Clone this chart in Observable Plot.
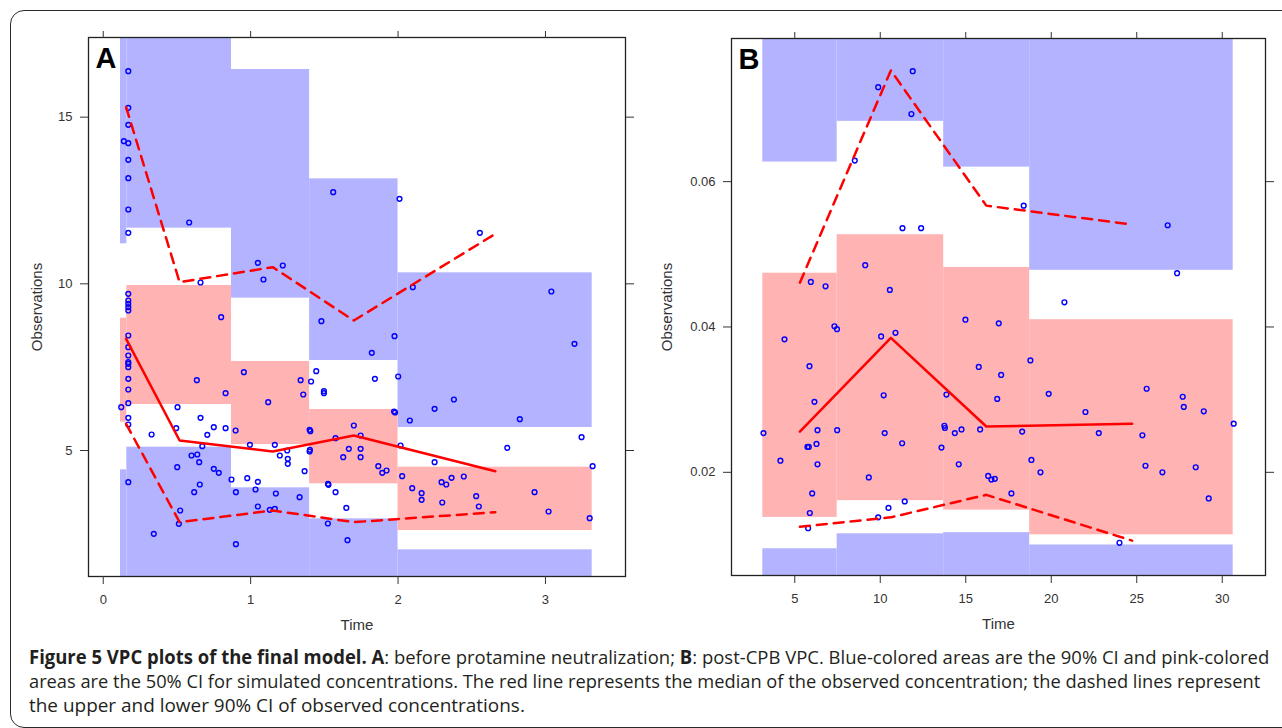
<!DOCTYPE html>
<html><head><meta charset="utf-8">
<script src="https://cdn.jsdelivr.net/npm/d3@7"></script>
<script src="https://cdn.jsdelivr.net/npm/@observablehq/plot@0.6"></script>
<style>
html,body{margin:0;padding:0;background:#fff;}
body{width:1282px;height:728px;overflow:hidden;position:relative;font-family:"Liberation Sans",Arial,sans-serif;}
#border{position:absolute;left:10px;top:10px;width:1330px;height:718px;border:1.5px solid #2a2a2a;border-radius:14px;box-sizing:border-box;}
#pa{position:absolute;left:0;top:0;}
#pb{position:absolute;left:640px;top:0;}
#cap{position:absolute;left:0;top:630px;}
</style></head><body>
<div id="border"></div>
<div id="pa"></div><div id="pb"></div>
<svg id="cap" width="1282" height="98">
<g font-family="'Open Sans', sans-serif" font-size="19" fill="#231f20">
<text class="capline" data-x="29" data-y="34" data-w="1241"><tspan font-weight="bold">Figure 5 VPC plots of the final model. A</tspan>: before protamine neutralization; <tspan font-weight="bold">B</tspan>: post-CPB VPC. Blue-colored areas are the 90% CI and pink-colored</text>
<text class="capline" data-x="29" data-y="58" data-w="1232">areas are the 50% CI for simulated concentrations. The red line represents the median of the observed concentration; the dashed lines represent</text>
<text class="capline" data-x="29" data-y="82" data-w="496">the upper and lower 90% CI of observed concentrations.</text>
</g>
</svg>
<script>
// ---------- Panel A: before protamine neutralization ----------
const binEdgesA = [0.117, 0.16, 0.87, 1.40, 2.0, 3.317];
const upperCILoA = [11.2, 11.67, 9.57, 7.7, 5.69];
const upperCIHiA = [18, 18, 16.43, 13.15, 10.33];
const medianCILoA = [5.85, 6.38, 5.18, 4.0, 2.6];
const medianCIHiA = [8.97, 9.95, 7.67, 6.23, 4.5];
const lowerCILoA = [1.0, 1.0, 1.0, 1.0, 1.0];
const lowerCIHiA = [4.42, 5.1, 3.88, 2.95, 2.02];
const binTimesA = [0.155, 0.518, 1.15, 1.70, 2.66];
const obsMedianA = [8.35, 5.3, 4.97, 5.45, 4.38];
const obsUpperA = [15.3, 10.05, 10.5, 8.9, 11.5];
const obsLowerA = [5.8, 2.85, 3.2, 2.85, 3.15];
const obsTimeA = [0.17,0.17,0.17,0.14,0.17,0.17,0.17,0.17,0.583,0.17,1.049,1.218,1.087,0.66,0.17,0.17,0.17,0.17,0.17,0.80,1.48,1.56,2.01,2.555,2.10,3.04,
  0.17,0.17,0.17,0.17,0.17,0.17,0.17,0.17,0.17,0.122,0.17,0.17,0.17,0.954,0.635,1.339,1.41,1.445,0.83,1.357,1.497,1.497,1.119,0.504,0.66,0.75,0.83,0.495,0.898,0.706,0.328,1.40,1.405,
  0.672,0.995,1.164,1.402,1.40,1.248,1.198,1.252,1.252,0.599,0.638,0.651,0.502,0.75,0.784,1.366,0.87,0.977,1.049,0.655,0.617,0.90,1.033,1.171,1.332,1.525,1.528,1.049,1.13,1.164,0.522,0.513,1.524,0.343,0.90,
  1.976,1.822,1.843,2.001,2.379,2.248,1.973,1.98,2.08,3.197,2.826,3.245,2.741,3.32,1.70,1.576,1.746,2.017,1.666,1.746,1.628,1.746,1.866,1.893,1.922,2.248,2.028,2.446,2.363,2.295,2.327,2.096,2.16,2.16,1.576,2.53,2.548,2.30,2.926,1.649,3.021,3.30,1.657];
const obsConcA = [16.38,15.28,14.77,14.28,14.22,13.72,13.17,12.23,11.84,11.53,10.63,10.55,10.13,10.04,9.7,9.5,9.4,9.3,9.2,9.0,8.88,12.75,12.55,11.53,9.9,9.77,
  8.45,8.1,7.85,7.65,7.6,7.5,7.15,6.83,6.42,6.3,5.98,5.78,4.05,7.35,7.11,7.11,7.07,7.38,6.72,6.68,6.78,6.72,6.45,6.3,5.98,5.7,5.67,5.67,5.6,5.47,5.48,5.62,5.58,
  5.13,5.17,5.17,5.02,4.97,5.0,4.85,4.75,4.6,4.85,4.88,4.65,4.5,4.45,4.33,4.38,4.13,4.17,4.06,3.98,3.75,3.75,3.83,3.71,3.6,4.0,3.97,3.32,3.22,3.25,3.2,2.8,2.81,2.5,2.19,
  8.43,7.93,7.15,7.22,6.53,6.25,6.17,6.14,5.9,8.2,5.94,5.4,5.08,4.53,5.75,5.37,5.45,5.15,5.05,5.05,4.8,4.8,4.53,4.33,4.4,4.65,4.23,4.22,4.18,4.05,3.98,3.87,3.72,3.52,3.75,3.63,3.32,3.44,3.75,3.28,3.17,2.97,2.31];
const xTicksA = [0, 1, 2, 3];
const yTicksA = [5, 10, 15];

// ---------- Panel B: post-CPB ----------
const binEdgesB = [3.13, 7.48, 13.71, 18.74, 30.64];
const upperCILoB = [0.0627, 0.0683, 0.0620, 0.0478];
const upperCIHiB = [0.085, 0.085, 0.085, 0.085];
const medianCILoB = [0.0138, 0.0161, 0.0148, 0.0114];
const medianCIHiB = [0.0474, 0.0527, 0.0482, 0.0410];
const lowerCILoB = [0.004, 0.004, 0.004, 0.004];
const lowerCIHiB = [0.00948, 0.01154, 0.0117, 0.0100];
const binTimesB = [5.3, 10.62, 16.2, 24.73];
const obsMedianB = [0.0256, 0.0385, 0.0263, 0.0267];
const obsUpperB = [0.0461, 0.0753, 0.0567, 0.0541];
const obsLowerB = [0.0125, 0.0138, 0.0169, 0.0106];
const obsTimeB = [11.9,9.88,11.82,8.51,11.3,12.39,9.12,5.94,6.8,10.56,14.98,18.39,26.81,27.36,20.77,16.93,7.32,7.47,4.40,10.05,10.89,5.86,6.15,10.2,13.87,3.17,6.33,7.48,10.26,13.75,13.78,14.36,14.75,11.28,5.74,5.82,6.27,13.58,4.16,6.33,14.59,9.33,6.02,11.43,5.88,10.48,9.88,5.78,
  15.76,18.78,17.07,16.84,19.85,22.0,25.58,27.69,27.75,28.92,30.67,15.84,18.3,22.78,25.33,16.31,16.5,16.7,18.84,19.37,25.51,26.5,28.45,29.21,17.67,23.99];
const obsConcB = [0.0752,0.0730,0.0693,0.0629,0.0536,0.0536,0.0485,0.0462,0.0456,0.0451,0.0410,0.0567,0.0540,0.0474,0.0434,0.0405,0.0401,0.0397,0.0383,0.0387,0.0392,0.0346,0.0297,0.0306,0.0307,0.0254,0.0258,0.0258,0.0254,0.0264,0.0261,0.0254,0.0259,0.0240,0.0235,0.0235,0.0239,0.0234,0.0216,0.0211,0.0211,0.0193,0.0171,0.0160,0.0144,0.0151,0.0138,0.0123,
  0.0345,0.0354,0.0334,0.0301,0.0308,0.0283,0.0315,0.0304,0.0290,0.0284,0.0267,0.0259,0.0256,0.0254,0.0251,0.0195,0.0190,0.0191,0.0217,0.0200,0.0209,0.0200,0.0207,0.0164,0.0171,0.0103];
const xTicksB = [5, 10, 15, 20, 25, 30];
const yTicksB = [0.02, 0.04, 0.06];

const BLUE = "#b3b3ff", PINK = "#ffb3b3";

function panel(c) {
  const blue = [], pink = [];
  for (let i = 0; i < c.edges.length - 1; i++) {
    blue.push({x1: c.edges[i], x2: c.edges[i+1], y1: c.upLo[i], y2: c.upHi[i]});
    blue.push({x1: c.edges[i], x2: c.edges[i+1], y1: c.lowLo[i], y2: c.lowHi[i]});
    pink.push({x1: c.edges[i], x2: c.edges[i+1], y1: c.medLo[i], y2: c.medHi[i]});
  }
  const pts = c.px.map((x, i) => ({x, y: c.py[i]}));
  const ln = ys => c.knots.map((x, i) => ({x, y: ys[i]}));
  const noLabel = () => "";
  return Plot.plot({
    width: c.width, height: 640,
    marginTop: c.mt, marginBottom: 640 - c.bottom, marginLeft: c.ml, marginRight: c.mr,
    x: {domain: c.xdom, label: null},
    y: {domain: c.ydom, label: null},
    style: {fontFamily: "'Liberation Sans', Arial, sans-serif", background: "transparent", color: "#333", overflow: "visible"},
    marks: [
      Plot.rect(blue, {x1: "x1", x2: "x2", y1: "y1", y2: "y2", fill: BLUE, clip: true}),
      Plot.rect(pink, {x1: "x1", x2: "x2", y1: "y1", y2: "y2", fill: PINK, clip: true}),
      Plot.dot(pts, {x: "x", y: "y", r: 2.4, stroke: "#0000ff", strokeWidth: 1.4, fill: "none"}),
      Plot.line(ln(c.med), {x: "x", y: "y", stroke: "#ff0000", strokeWidth: 2.5}),
      Plot.line(ln(c.hi), {x: "x", y: "y", stroke: "#ff0000", strokeWidth: 2.5, strokeDasharray: "10,7"}),
      Plot.line(ln(c.lo), {x: "x", y: "y", stroke: "#ff0000", strokeWidth: 2.5, strokeDasharray: "10,7"}),
      Plot.frame({stroke: "#222", strokeWidth: 1.3}),
      Plot.axisX({anchor: "bottom", ticks: c.xticks, tickSize: 8, tickPadding: 10, fontSize: 13, label: null, tickFormat: d3.format("d")}),
      Plot.axisX({anchor: "top", ticks: c.xticks, tickSize: 7, label: null, tickFormat: noLabel}),
      Plot.axisY({anchor: "left", ticks: c.yticks, tickSize: 8, tickPadding: 8, fontSize: 13, label: null, tickFormat: c.yfmt}),
      Plot.axisY({anchor: "right", ticks: c.yticks, tickSize: 8, label: null, tickFormat: noLabel}),
      Plot.text(["Time"], {text: d => d, frameAnchor: "bottom", dy: 49, lineAnchor: "middle", textAnchor: "middle", fontSize: 15, fill: "#333"}),
      Plot.text(["Observations"], {text: d => d, frameAnchor: "left", dx: c.ylabDx, rotate: -90, textAnchor: "middle", lineAnchor: "middle", fontSize: 15, fill: "#333"}),
      Plot.text([c.tag], {text: d => d, frameAnchor: "top-left", dx: 7, dy: 10, lineAnchor: "top", textAnchor: "start", fontSize: 29, fontWeight: "bold", fill: "#000"})
    ]
  });
}

document.getElementById("pa").append(panel({
  width: 640, mt: 37, bottom: 576, ml: 88, mr: 15,
  xdom: [-0.1, 3.543], ydom: [1.22, 17.39],
  edges: binEdgesA, upLo: upperCILoA, upHi: upperCIHiA, medLo: medianCILoA, medHi: medianCIHiA, lowLo: lowerCILoA, lowHi: lowerCIHiA,
  knots: binTimesA, med: obsMedianA, hi: obsUpperA, lo: obsLowerA,
  px: obsTimeA, py: obsConcA, xticks: xTicksA, yticks: yTicksA, yfmt: d3.format("d"), ylabDx: -51, tag: "A"
}));
document.getElementById("pb").append(panel({
  width: 642, mt: 38, bottom: 575, ml: 91, mr: 17,
  xdom: [1.30, 32.53], ydom: [0.0058, 0.0797],
  edges: binEdgesB, upLo: upperCILoB, upHi: upperCIHiB, medLo: medianCILoB, medHi: medianCIHiB, lowLo: lowerCILoB, lowHi: lowerCIHiB,
  knots: binTimesB, med: obsMedianB, hi: obsUpperB, lo: obsLowerB,
  px: obsTimeB, py: obsConcB, xticks: xTicksB, yticks: yTicksB, yfmt: d3.format(".2f"), ylabDx: -64.5, tag: "B"
}));

// caption lines: condense each line horizontally to its measured width in the figure
document.querySelectorAll(".capline").forEach(t => {
  const natural = t.getComputedTextLength();
  const s = (+t.dataset.w) / natural;
  t.setAttribute("transform", `translate(${t.dataset.x},${t.dataset.y}) scale(${s},1)`);
});
</script>
</body></html>
